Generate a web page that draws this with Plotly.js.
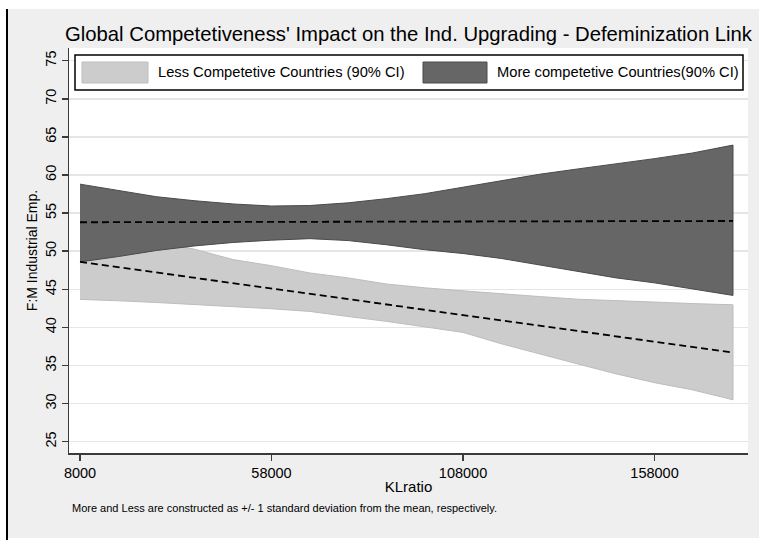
<!DOCTYPE html>
<html>
<head>
<meta charset="utf-8">
<script src="https://cdn.plot.ly/plotly-3.0.1.min.js"></script>
<style>
  html, body { margin: 0; padding: 0; background: #ffffff; width: 759px; height: 540px; overflow: hidden; }
  #border { position: absolute; left: 6px; top: 9px; width: 2px; height: 531px; background: #000; }
  #chart { position: absolute; left: 8px; top: 9px; width: 751px; height: 529px; }
</style>
</head>
<body>
<div id="border"></div>
<div id="chart"></div>
<script>
// ---- data ----
const klratio = [8000, 18000, 28000, 38000, 48000, 58000, 68000, 78000, 88000, 98000,
                 108000, 118000, 128000, 138000, 148000, 158000, 168000, 178500];

// Less competitive countries: 90% CI and predicted mean
const lessUpper = [53.5, 52.4, 51.3, 50.25, 48.9, 48.1, 47.15, 46.5, 45.7, 45.2,
                   44.8, 44.4, 44.05, 43.7, 43.47, 43.33, 43.13, 42.97];
const lessLower = [43.68, 43.5, 43.27, 43.0, 42.75, 42.45, 42.1, 41.43, 40.8, 40.1,
                   39.35, 37.85, 36.55, 35.2, 33.9, 32.75, 31.8, 30.5];
const lessMean  = [48.6, 47.9, 47.2, 46.5, 45.8, 45.1, 44.4, 43.7, 43.0, 42.3,
                   41.6, 40.9, 40.2, 39.55, 38.85, 38.15, 37.45, 36.7];

// More competitive countries: 90% CI and predicted mean
const moreUpper = [58.8, 58.0, 57.15, 56.62, 56.2, 55.93, 56.0, 56.35, 56.9, 57.55,
                   58.4, 59.3, 60.1, 60.8, 61.45, 62.15, 62.9, 63.93];
const moreLower = [48.6, 49.3, 50.1, 50.7, 51.15, 51.45, 51.65, 51.4, 50.85, 50.2,
                   49.7, 49.05, 48.2, 47.35, 46.5, 45.85, 45.0, 44.2];
const moreMean  = [53.8, 53.81, 53.82, 53.83, 53.84, 53.85, 53.86, 53.87, 53.88, 53.89,
                   53.9, 53.91, 53.92, 53.93, 53.94, 53.95, 53.96, 53.97];

const xTickVals = [8000, 58000, 108000, 158000];
const xTickText = ["8000", "58000", "108000", "158000"];
const yTickVals = [25, 30, 35, 40, 45, 50, 55, 60, 65, 70, 75];
const yTickText = ["25", "30", "35", "40", "45", "50", "55", "60", "65", "70", "75"];

const seriesNames = ["Less Competetive Countries (90% CI)", "More competetive Countries(90% CI)"];
const titleText = "Global Competetiveness' Impact on the Ind. Upgrading - Defeminization Link";
const xTitle = "KLratio";
const yTitle = "F:M Industrial Emp.";
const noteText = "More and Less are constructed as +/- 1 standard deviation from the mean, respectively.";

// ---- build traces ----
function band(upper, lower) {
  return {
    x: klratio.concat(klratio.slice().reverse()),
    y: upper.concat(lower.slice().reverse())
  };
}
const lessBand = band(lessUpper, lessLower);
const moreBand = band(moreUpper, moreLower);

const FONT = "Liberation Sans, Arial, sans-serif";
const lightFill = "#cccccc", lightLine = "#bdbdbd";
const darkFill = "#666666", darkLine = "#4a4a4a";

const traces = [
  { x: lessBand.x, y: lessBand.y, type: "scatter", mode: "lines", fill: "toself",
    fillcolor: lightFill, line: { color: lightLine, width: 1 }, name: seriesNames[0],
    showlegend: false, hoverinfo: "skip" },
  { x: moreBand.x, y: moreBand.y, type: "scatter", mode: "lines", fill: "toself",
    fillcolor: darkFill, line: { color: darkLine, width: 1 }, name: seriesNames[1],
    showlegend: false, hoverinfo: "skip" },
  { x: klratio, y: lessMean, type: "scatter", mode: "lines",
    line: { color: "#000000", width: 1.8, dash: "7px,4px" }, showlegend: false },
  { x: klratio, y: moreMean, type: "scatter", mode: "lines",
    line: { color: "#000000", width: 1.8, dash: "7px,4px" }, showlegend: false }
];

// ---- legend (drawn in plot-paper coordinates) ----
const W = 679, H = 405; // plot area size in px
const px = v => v / W;          // px from plot left
const py = v => 1 - v / H;      // px from plot top
const shapes = [
  { type: "rect", xref: "paper", yref: "paper", x0: px(6), x1: px(674), y0: py(42), y1: py(7),
    fillcolor: "#ffffff", line: { color: "#000000", width: 1.5 } },
  { type: "rect", xref: "paper", yref: "paper", x0: px(13), x1: px(79), y0: py(35), y1: py(14),
    fillcolor: lightFill, line: { color: lightLine, width: 1 } },
  { type: "rect", xref: "paper", yref: "paper", x0: px(354), x1: px(418), y0: py(35), y1: py(14),
    fillcolor: darkFill, line: { color: darkLine, width: 1 } }
];
const annotations = [
  { xref: "paper", yref: "paper", x: px(87), y: py(24.5), xanchor: "left", yanchor: "middle",
    text: seriesNames[0], showarrow: false, font: { family: FONT, size: 14.7, color: "#000" } },
  { xref: "paper", yref: "paper", x: px(426), y: py(24.5), xanchor: "left", yanchor: "middle",
    text: seriesNames[1], showarrow: false, font: { family: FONT, size: 14.7, color: "#000" } },
  { xref: "paper", yref: "paper", x: px(1), y: -(54.5 / H), xanchor: "left", yanchor: "middle",
    text: noteText, showarrow: false, font: { family: FONT, size: 11, color: "#000" } }
];

const layout = {
  width: 751, height: 529,
  margin: { l: 61, r: 11, t: 39, b: 85 },
  paper_bgcolor: "#efefef",
  plot_bgcolor: "#ffffff",
  font: { family: FONT, color: "#000" },
  title: { text: titleText, font: { family: FONT, size: 20.3, color: "#000" },
           xref: "paper", x: 0.5, xanchor: "center",
           yref: "container", y: 1 - 25 / 529, yanchor: "middle" },
  xaxis: {
    range: [5128, 182413], tickvals: xTickVals, ticktext: xTickText,
    showgrid: false, zeroline: false, showline: true, linecolor: "#3a3a3a", linewidth: 1.5,
    ticks: "outside", ticklen: 6, tickwidth: 1.5, tickcolor: "#3a3a3a",
    tickfont: { family: FONT, size: 14.5, color: "#000" },
    title: { text: xTitle, font: { family: FONT, size: 15, color: "#000" }, standoff: 1 }
  },
  yaxis: {
    range: [23.52, 76.67], tickvals: yTickVals, ticktext: yTickText, tickangle: -90,
    showgrid: true, gridcolor: "#e6e6e6", gridwidth: 1.5, zeroline: false,
    showline: true, linecolor: "#3a3a3a", linewidth: 1.5,
    ticks: "outside", ticklen: 6, tickwidth: 1.5, tickcolor: "#3a3a3a",
    tickfont: { family: FONT, size: 14.5, color: "#000" },
    title: { text: yTitle, font: { family: FONT, size: 14, color: "#000" }, standoff: 2 }
  },
  shapes: shapes,
  annotations: annotations,
  showlegend: false
};

Plotly.newPlot("chart", traces, layout, { displayModeBar: false, staticPlot: true });
</script>
</body>
</html>
